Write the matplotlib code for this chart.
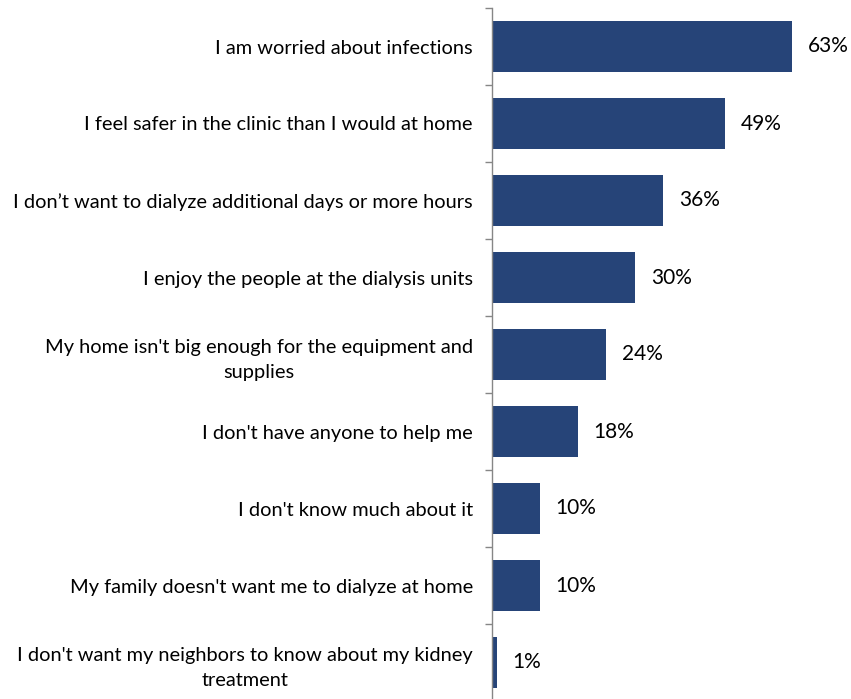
import matplotlib.pyplot as plt
import numpy as np

# Survey responses: reasons for staying with in-center dialysis
reasons = [
    "I am worried about infections",
    "I feel safer in the clinic than I would at home",
    "I don\u2019t want to dialyze additional days or more hours",
    "I enjoy the people at the dialysis units",
    "My home isn't big enough for the equipment and\nsupplies",
    "I don't have anyone to help me",
    "I don't know much about it",
    "My family doesn't want me to dialyze at home",
    "I don't want my neighbors to know about my kidney\ntreatment",
]
shares = [63, 49, 36, 30, 24, 18, 10, 10, 1]

BAR_COLOR = "#264478"
AXIS_COLOR = "#868686"

plt.rcParams['font.family'] = ['Lato', 'DejaVu Sans']

W, H = 851, 699
fig = plt.figure(figsize=(W / 100, H / 100), dpi=100)

# axes placed in pixel terms: left spine at x=492, 1% ~ 4.76 px
left_px, right_px = 492, 492 + 70 * 4.76
top_px, bottom_px = 8, 701
ax = fig.add_axes([left_px / W, (H - bottom_px) / H,
                   (right_px - left_px) / W, (bottom_px - top_px) / H])

n = len(reasons)
y = np.arange(n)
ax.barh(y, shares, height=0.66, color=BAR_COLOR)
ax.set_xlim(0, 70)
ax.set_ylim(n - 0.5, -0.5)

for yi, v in zip(y, shares):
    ax.annotate(f"{v}%", xy=(v, yi), xytext=(11.5, 0), textcoords='offset points',
                va='center', ha='left', fontsize=15)

ax.set_yticks(y)
ax.set_yticklabels(reasons, fontsize=14.4, multialignment='center', linespacing=1.6)
ax.tick_params(axis='y', which='major', length=0, pad=13.7)
ax.set_yticks(np.arange(n + 1) - 0.5, minor=True)
ax.tick_params(axis='y', which='minor', length=5, color=AXIS_COLOR, width=1)

ax.set_xticks([])
for side in ['top', 'right', 'bottom']:
    ax.spines[side].set_visible(False)
ax.spines['left'].set_color(AXIS_COLOR)
ax.spines['left'].set_linewidth(1)

fig.savefig("out.png", dpi=100)
